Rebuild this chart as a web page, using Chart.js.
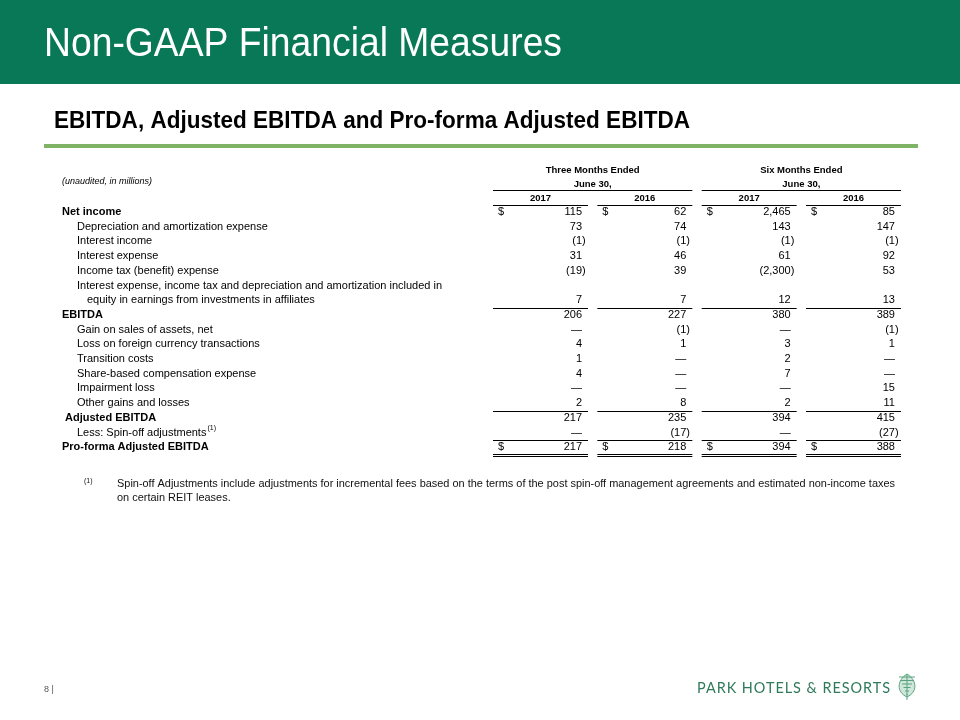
<!DOCTYPE html>
<html>
<head>
<meta charset="utf-8">
<title>Non-GAAP Financial Measures</title>
<script src="https://cdn.jsdelivr.net/npm/chart.js@4.4.1/dist/chart.umd.min.js"></script>
<style>
  html, body { margin: 0; padding: 0; background: #fff; }
  canvas { display: block; }
</style>
</head>
<body>
<canvas id="slide" width="960" height="720"></canvas>
<script>
/* ----- D A T A ----- */

const rowLabels = [
    "Net income",
    "Depreciation and amortization expense",
    "Interest income",
    "Interest expense",
    "Income tax (benefit) expense",
    "Interest expense, income tax and depreciation and amortization included in",
    "equity in earnings from investments in affiliates",
    "EBITDA",
    "Gain on sales of assets, net",
    "Loss on foreign currency transactions",
    "Transition costs",
    "Share-based compensation expense",
    "Impairment loss",
    "Other gains and losses",
    " Adjusted EBITDA",
    "Less: Spin-off adjustments",
    "Pro-forma Adjusted EBITDA"
];

const periodLabels = ["Three Months Ended", "Six Months Ended"];
const periodSubLabel = "June 30,";
const yearLabels = ["2017", "2016", "2017", "2016"];

// null = no value on this row, 0 = shown as a dash
const threeMonths2017 = [115, 73, -1, 31, -19, null, 7, 206, 0, 4, 1, 4, 0, 2, 217, 0, 217];
const threeMonths2016 = [62, 74, -1, 46, 39, null, 7, 227, -1, 1, 0, 0, 0, 8, 235, -17, 218];
const sixMonths2017 = [2465, 143, -1, 61, -2300, null, 12, 380, 0, 3, 2, 7, 0, 2, 394, 0, 394];
const sixMonths2016 = [85, 147, -1, 92, 53, null, 13, 389, -1, 1, 0, 0, 15, 11, 415, -27, 388];

const dollarRows = [0, 16];
const footnote = [
    "Spin-off Adjustments include adjustments for incremental fees based on the terms of the post spin-off management agreements and estimated non-income taxes",
    "on certain REIT leases."
];

/* ----- S E T T I N G S ----- */

const
    FONT = "'Liberation Sans', Arial, sans-serif",
    GREEN_BAND = "#087856",
    GREEN_RULE = "#7fb366",
    ROW_H = 14.7,
    FIRST_ROW_Y = 212,
    COL_STEP = 104.33,
    FIRST_COL_RIGHT = 582,
    Y_MIN = -3.5,
    Y_MAX = 16.5,
    X_MIN = -0.5,
    X_MAX = 3.5;

const boldRows = [0, 7, 14, 16];
const indentRows = [1, 2, 3, 4, 5, 8, 9, 10, 11, 12, 13, 15];
const ruleAfterRows = [6, 13, 15];

const columns = [threeMonths2017, threeMonths2016, sixMonths2017, sixMonths2016];

function fmt(v) {
    if (v === 0) return { body: "\u2014", close: "" };
    const s = Math.abs(v).toLocaleString("en-US");
    return v < 0 ? { body: "(" + s, close: ")" } : { body: s, close: "" };
}

function crisp(y) {
    return Math.round(y) + 0.5;
}

function hline(ctx, x1, x2, y) {
    ctx.beginPath();
    ctx.moveTo(x1, crisp(y));
    ctx.lineTo(x2, crisp(y));
    ctx.stroke();
}

/* ----- P L U G I N S ----- */

const slidePlugin = {
    id: "slide",
    beforeDraw(chart) {
        const ctx = chart.ctx;
        ctx.save();
        ctx.fillStyle = "#fff";
        ctx.fillRect(0, 0, chart.width, chart.height);

        // header band
        ctx.fillStyle = GREEN_BAND;
        ctx.fillRect(0, 0, chart.width, 84);
        ctx.fillStyle = "#fff";
        ctx.font = "40px " + FONT;
        ctx.textBaseline = "alphabetic";
        ctx.textAlign = "left";
        ctx.fillText("Non-GAAP Financial Measures", 44, 56, 518);

        // subtitle + rule
        ctx.fillStyle = "#000";
        ctx.font = "bold 24px " + FONT;
        ctx.fillText("EBITDA, Adjusted EBITDA and Pro-forma Adjusted EBITDA", 54, 128, 636);
        ctx.fillStyle = GREEN_RULE;
        ctx.fillRect(44, 144, 874, 4);

        // footer
        ctx.fillStyle = "#555";
        ctx.font = "9px " + FONT;
        ctx.fillText("8 |", 44, 692);
        ctx.fillStyle = "#2f7a5b";
        ctx.font = "15px Lato, 'Open Sans', sans-serif";
        ctx.letterSpacing = "1px";
        ctx.fillText("PARK HOTELS & RESORTS", 697, 693, 194);
        ctx.letterSpacing = "0px";

        // small cone logo
        ctx.strokeStyle = "#5aa37f";
        ctx.fillStyle = "#cfe6da";
        ctx.lineWidth = 1;
        ctx.beginPath();
        ctx.moveTo(907, 674);
        ctx.bezierCurveTo(917, 680, 918, 692, 907, 697);
        ctx.bezierCurveTo(896, 692, 897, 680, 907, 674);
        ctx.fill();
        ctx.stroke();
        for (let k = 0; k < 6; k++) {
            ctx.beginPath();
            ctx.moveTo(899 + k * 1.5, 677 + k * 3.5);
            ctx.lineTo(915 - k * 1.5, 677 + k * 3.5);
            ctx.stroke();
        }
        ctx.beginPath();
        ctx.moveTo(907, 674);
        ctx.lineTo(907, 700);
        ctx.stroke();
        ctx.restore();
    },
    afterDatasetsDraw(chart) {
        const ctx = chart.ctx,
            xs = chart.scales.x,
            ys = chart.scales.y;
        ctx.save();
        ctx.fillStyle = "#000";
        ctx.strokeStyle = "#000";
        ctx.lineWidth = 1;
        ctx.textBaseline = "middle";

        const colRight = k => xs.getPixelForValue(k);
        const colLeft = k => colRight(k) - 89;
        const colEnd = k => colRight(k) + 6;

        // header block
        ctx.font = "bold 9.5px " + FONT;
        ctx.textAlign = "center";
        periodLabels.forEach((lab, p) => {
            const a = colLeft(p * 2), b = colEnd(p * 2 + 1), mid = (a + b) / 2;
            ctx.fillText(lab, mid, ys.getPixelForValue(-2.85));
            ctx.fillText(periodSubLabel, mid, ys.getPixelForValue(-1.9));
            hline(ctx, a, b, ys.getPixelForValue(-1.9) + 6);
        });
        yearLabels.forEach((lab, k) => {
            ctx.fillText(lab, (colLeft(k) + colEnd(k)) / 2, ys.getPixelForValue(-0.95));
            hline(ctx, colLeft(k), colEnd(k), ys.getPixelForValue(-0.95) + 6.5);
        });
        ctx.textAlign = "left";
        ctx.font = "italic 9px " + FONT;
        ctx.fillText("(unaudited, in millions)", 62, ys.getPixelForValue(-2.05));

        // row labels
        rowLabels.forEach((lab, i) => {
            const y = ys.getPixelForValue(i);
            let x = 62;
            if (indentRows.includes(i)) x = 77;
            if (i === 6) x = 87;
            ctx.font = (boldRows.includes(i) ? "bold " : "") + "11px " + FONT;
            ctx.fillText(lab, x, y);
            if (i === 15) {
                const w = ctx.measureText(lab).width;
                ctx.font = "7px " + FONT;
                ctx.fillText("(1)", x + w + 1, y - 4);
            }
        });

        // values, placed from the dataset elements
        ctx.font = "11px " + FONT;
        chart.data.datasets.forEach((ds, k) => {
            const meta = chart.getDatasetMeta(k);
            meta.data.forEach((pt, j) => {
                const raw = ds.data[j];
                const f = fmt(raw.v);
                ctx.textAlign = "right";
                ctx.fillText(f.body, pt.x, pt.y);
                if (f.close) {
                    ctx.textAlign = "left";
                    ctx.fillText(f.close, pt.x, pt.y);
                }
                if (dollarRows.includes(raw.y)) {
                    ctx.textAlign = "left";
                    ctx.fillText("$", colLeft(k) + 5, pt.y);
                }
            });
            ruleAfterRows.forEach(r => hline(ctx, colLeft(k), colEnd(k), ys.getPixelForValue(r) + 7.5));
            const yLast = ys.getPixelForValue(16);
            hline(ctx, colLeft(k), colEnd(k), yLast + 6.5);
            hline(ctx, colLeft(k), colEnd(k), yLast + 9);
        });

        // footnote
        ctx.textAlign = "left";
        ctx.fillStyle = "#111";
        ctx.font = "7px " + FONT;
        ctx.fillText("(1)", 84, 481);
        ctx.font = "11.5px " + FONT;
        ctx.fillText(footnote[0], 117, 484, 778);
        ctx.save();
        ctx.translate(117, 498);
        ctx.scale(778 / 818, 1);
        ctx.fillText(footnote[1], 0, 0);
        ctx.restore();
        ctx.restore();
    }
};

/* ----- C H A R T ----- */

const datasets = columns.map((vals, k) => ({
    label: yearLabels[k],
    data: vals
        .map((v, i) => ({ x: k, y: i, v: v }))
        .filter(p => p.v !== null),
    pointRadius: 0,
    pointHoverRadius: 0,
    showLine: false
}));

const
    W = 960,
    H = 720,
    areaTop = FIRST_ROW_Y + Y_MIN * ROW_H,
    areaBottom = FIRST_ROW_Y + Y_MAX * ROW_H,
    areaLeft = FIRST_COL_RIGHT + X_MIN * COL_STEP,
    areaRight = FIRST_COL_RIGHT + X_MAX * COL_STEP;

new Chart(document.getElementById("slide"), {
    type: "scatter",
    data: { datasets: datasets },
    options: {
        responsive: false,
        animation: false,
        devicePixelRatio: 1,
        layout: {
            padding: { left: areaLeft, right: W - areaRight, top: areaTop, bottom: H - areaBottom }
        },
        plugins: {
            legend: { display: false },
            tooltip: { enabled: false },
            title: { display: false }
        },
        scales: {
            x: { type: "linear", min: X_MIN, max: X_MAX, display: false },
            y: { type: "linear", min: Y_MIN, max: Y_MAX, reverse: true, display: false }
        }
    },
    plugins: [slidePlugin]
});
</script>
</body>
</html>
